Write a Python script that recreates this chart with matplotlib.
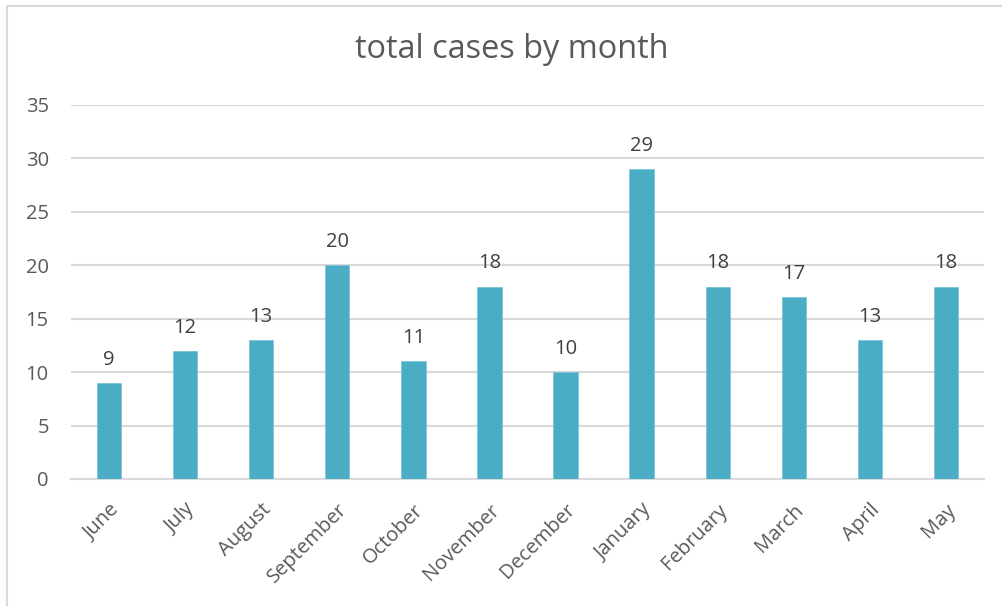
import matplotlib.pyplot as plt
from matplotlib.patches import Rectangle

months = ['June', 'July', 'August', 'September', 'October', 'November',
          'December', 'January', 'February', 'March', 'April', 'May']
cases = [9, 12, 13, 20, 11, 18, 10, 29, 18, 17, 13, 18]
yticks = [0, 5, 10, 15, 20, 25, 30, 35]

plt.rcParams['font.family'] = ['Open Sans', 'DejaVu Sans']
text_col = '#595959'
grid_col = '#D9D9D9'
bar_col = '#4BACC6'

fig = plt.figure(figsize=(10.03, 6.06), dpi=100)
# chart border
fig.patches.append(Rectangle((7 / 1003, -0.01), 1.0, 1 - 6 / 606 + 0.01,
                             transform=fig.transFigure, fill=False,
                             edgecolor=grid_col, linewidth=1.5))

ax = fig.add_axes([71 / 1003, 1 - 479 / 606, 913 / 1003, 374 / 606])
x = list(range(len(months)))
bars = ax.bar(x, cases, width=0.32, color=bar_col, edgecolor='#7CC4D8', linewidth=0.6, zorder=3)
for xi, v in zip(x, cases):
    ax.text(xi, v + 1.7, str(v), ha='center', va='baseline', fontsize=14.5, color='#404040')

ax.set_xlim(-0.5, len(months) - 0.5)
ax.set_ylim(0, 35)
ax.set_yticks(yticks)
ax.set_yticklabels([str(t) for t in yticks], fontsize=14.5, color=text_col)
ax.set_xticks(x)
ax.set_xticklabels(months, rotation=45, ha='right', rotation_mode='anchor',
                   fontsize=14.5, color=text_col)
ax.tick_params(axis='both', length=0)
ax.tick_params(axis='y', pad=16)
ax.tick_params(axis='x', pad=15)
ax.grid(axis='y', color=grid_col, linewidth=1.5, zorder=0)
for s in ['top', 'right', 'left']:
    ax.spines[s].set_visible(False)
ax.spines['bottom'].set_color(grid_col)
ax.spines['bottom'].set_linewidth(1.5)

fig.text(0.51, 1 - 50 / 606, 'total cases by month', ha='center', va='center',
         fontsize=23.4, color=text_col)

fig.savefig('out.png', dpi=100)
